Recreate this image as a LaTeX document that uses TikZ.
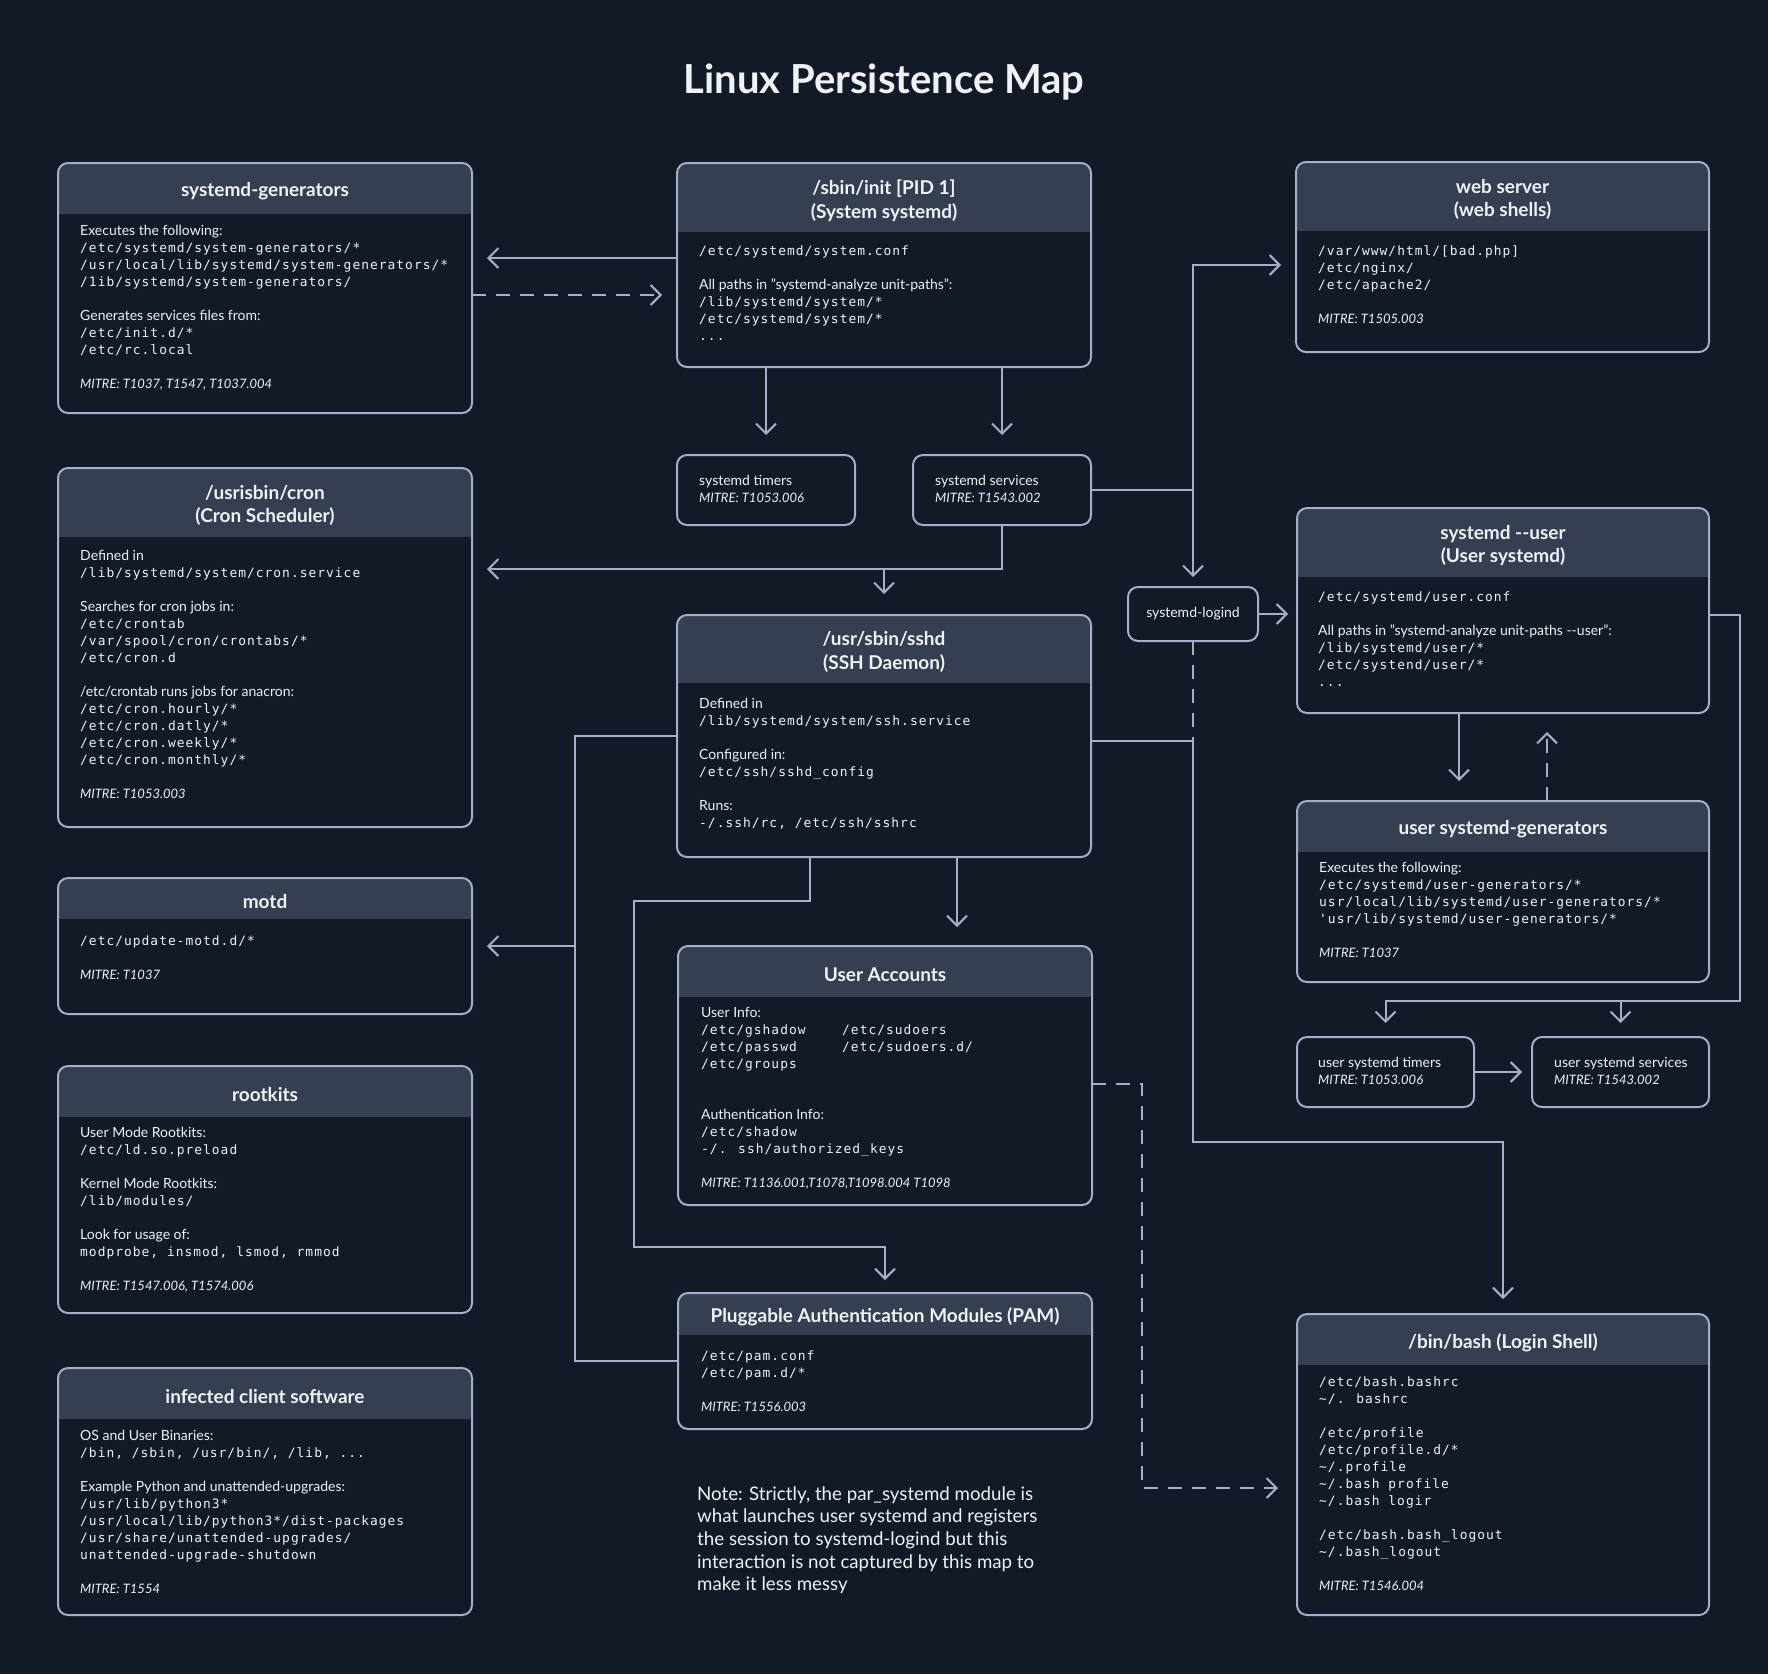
\documentclass[tikz,border=0pt]{standalone}
\usepackage{fontspec}
\setmainfont{Lato}
\newfontfamily\monof{DejaVu Sans Mono}[Scale=0.92,LetterSpace=8]
\usetikzlibrary{arrows.meta}
\definecolor{bgc}{HTML}{121A27}
\definecolor{headc}{HTML}{363F51}
\definecolor{edgec}{HTML}{A5AFC9}
\definecolor{txtc}{HTML}{F0F2F6}
\newcommand\mm[1]{{\monof #1}}
\newcommand\mi[1]{{\fontsize{13}{17}\selectfont\itshape #1}}
\newcommand\mapbox[6]{%
  \fill[bgc,rounded corners=10pt] (#2,#3) rectangle (#4,#5);
  \begin{scope}
    \clip[rounded corners=10pt] (#2,#3) rectangle (#4,#5);
    \fill[headc] (#2,#3) rectangle (#4,#6);
  \end{scope}
  \node[boxframe, minimum width={(#4-#2)*1pt}, minimum height={(#5-#3)*1pt}] (#1) at ({(#2+#4)/2},{(#3+#5)/2}) {};
  \node[htitle] (#1-t) at ({(#2+#4)/2},{(#3+#6)/2+3})}
\newcommand\smallbox[5]{%
  \fill[bgc,rounded corners=10pt] (#2,#3) rectangle (#4,#5);
  \node[boxframe, minimum width={(#4-#2)*1pt}, minimum height={(#5-#3)*1pt}] (#1) at ({(#2+#4)/2},{(#3+#5)/2}) {};}
\tikzset{
  boxframe/.style={draw=edgec, line width=2pt, rounded corners=10pt, inner sep=0pt, outer sep=0pt},
  htitle/.style={text=txtc, font=\bfseries\fontsize{19}{23.5}\selectfont, align=center, inner sep=0pt},
  btext/.style={text=txtc, anchor=north west, inner sep=0pt, align=left, font=\fontsize{14}{17}\selectfont},
  conn/.style={draw=edgec, line width=2pt},
  arr/.style={conn, -{Straight Barb[length=10pt,width=20pt]}, shorten >=15pt},
  dsh/.style={dash pattern=on 14pt off 10pt},
}
\begin{document}
\begin{tikzpicture}[x=1pt,y=-1pt]
\fill[bgc] (0,0) rectangle (1768,1674);
\useasboundingbox (0,0) rectangle (1768,1674);

\node[text=txtc, font=\bfseries\fontsize{40}{46}\selectfont] (title) at (884,82) {Linux Persistence Map};

% ---------- left column
\mapbox{gens}{58}{163}{472}{413}{214} {systemd-generators};
\node[btext] (gens-b) at (80,223) {\strut Executes the following:\\
\mm{/etc/systemd/system-generators/*}\\
\mm{/usr/local/lib/systemd/system-generators/*}\\
\mm{/1ib/systemd/system-generators/}\\[17pt]
Generates services files from:\\
\mm{/etc/init.d/*}\\
\mm{/etc/rc.local}\\[17pt]
\mi{MITRE: T1037, T1547, T1037.004}};

\mapbox{cron}{58}{468}{472}{827}{537} {/usrisbin/cron\\(Cron Scheduler)};
\node[btext] (cron-b) at (80,548) {\strut Defined in\\
\mm{/lib/systemd/system/cron.service}\\[17pt]
Searches for cron jobs in:\\
\mm{/etc/crontab}\\
\mm{/var/spool/cron/crontabs/*}\\
\mm{/etc/cron.d}\\[17pt]
/etc/crontab runs jobs for anacron:\\
\mm{/etc/cron.hourly/*}\\
\mm{/etc/cron.datly/*}\\
\mm{/etc/cron.weekly/*}\\
\mm{/etc/cron.monthly/*}\\[17pt]
\mi{MITRE: T1053.003}};

\mapbox{motd}{58}{878}{472}{1014}{919} {motd};
\node[btext] (motd-b) at (80,933) {\strut\mm{/etc/update-motd.d/*}\\[17pt]
\mi{MITRE: T1037}};

\mapbox{rootkits}{58}{1066}{472}{1313}{1117} {rootkits};
\node[btext] (rootkits-b) at (80,1125) {\strut User Mode Rootkits:\\
\mm{/etc/ld.so.preload}\\[17pt]
Kernel Mode Rootkits:\\
\mm{/lib/modules/}\\[17pt]
Look for usage of:\\
\mm{modprobe, insmod, lsmod, rmmod}\\[17pt]
\mi{MITRE: T1547.006, T1574.006}};

\mapbox{infected}{58}{1368}{472}{1615}{1419} {infected client software};
\node[btext] (infected-b) at (80,1428) {\strut OS and User Binaries:\\
\mm{/bin, /sbin, /usr/bin/, /lib, ...}\\[17pt]
Example Python and unattended-upgrades:\\
\mm{/usr/lib/python3*}\\
\mm{/usr/local/lib/python3*/dist-packages}\\
\mm{/usr/share/unattended-upgrades/}\\
\mm{unattended-upgrade-shutdown}\\[17pt]
\mi{MITRE: T1554}};

% ---------- centre column
\mapbox{init}{677}{163}{1091}{367}{232} {/sbin/init [PID 1]\\(System systemd)};
\node[btext] (init-b) at (699,243) {\strut\mm{/etc/systemd/system.conf}\\[17pt]
All paths in "systemd-analyze unit-paths":\\
\mm{/lib/systemd/system/*}\\
\mm{/etc/systemd/system/*}\\
\mm{...}};

\smallbox{timers}{677}{455}{855}{525}
\node[btext] (timers-b) at (699,473) {\strut systemd timers\\ \mi{MITRE: T1053.006}};
\smallbox{services}{913}{455}{1091}{525}
\node[btext] (services-b) at (935,473) {\strut systemd services\\ \mi{MITRE: T1543.002}};

\mapbox{sshd}{677}{615}{1091}{857}{683} {/usr/sbin/sshd\\(SSH Daemon)};
\node[btext] (sshd-b) at (699,696) {\strut Defined in\\
\mm{/lib/systemd/system/ssh.service}\\[17pt]
Configured in:\\
\mm{/etc/ssh/sshd\_config}\\[17pt]
Runs:\\
\mm{-/.ssh/rc, /etc/ssh/sshrc}};

\mapbox{accounts}{678}{946}{1092}{1205}{997} {User Accounts};
\node[btext] (accounts-b) at (701,1005) {\strut User Info:\\
\mm{\makebox[141pt][l]{/etc/gshadow}/etc/sudoers}\\
\mm{\makebox[141pt][l]{/etc/passwd}/etc/sudoers.d/}\\
\mm{/etc/groups}\\[34pt]
Authentication Info:\\
\mm{/etc/shadow}\\
\mm{-/. ssh/authorized\_keys}\\[17pt]
\mi{MITRE: T1136.001,T1078,T1098.004 T1098}};

\mapbox{pam}{678}{1293}{1092}{1429}{1335} {Pluggable Authentication Modules (PAM)};
\node[btext] (pam-b) at (701,1348) {\strut\mm{/etc/pam.conf}\\
\mm{/etc/pam.d/*}\\[17pt]
\mi{MITRE: T1556.003}};

\node[text=txtc, anchor=north west, inner sep=0pt, align=left, font=\fontsize{18.7}{22.7}\selectfont] (note) at (697,1484) {\strut Note: Strictly, the par\_systemd module is\\
what launches user systemd and registers\\
the session to systemd-logind but this\\
interaction is not captured by this map to\\
make it less messy};

% ---------- right column
\mapbox{web}{1296}{162}{1709}{352}{231} {web server\\(web shells)};
\node[btext] (web-b) at (1318,243) {\strut\mm{/var/www/html/[bad.php]}\\
\mm{/etc/nginx/}\\
\mm{/etc/apache2/}\\[17pt]
\mi{MITRE: T1505.003}};

\smallbox{logind}{1128}{587}{1258}{641}
\node[text=txtc, inner sep=0pt, font=\fontsize{14}{17}\selectfont] (logind-t) at (1193,614) {systemd-logind};

\mapbox{user}{1297}{508}{1709}{713}{577} {systemd -{}-user\\(User systemd)};
\node[btext] (user-b) at (1318,589) {\strut\mm{/etc/systemd/user.conf}\\[17pt]
All paths in "systemd-analyze unit-paths -{}-user":\\
\mm{/lib/systemd/user/*}\\
\mm{/etc/systend/user/*}\\
\mm{...}};

\mapbox{ugen}{1297}{801}{1709}{982}{852} {user systemd-generators};
\node[btext] (ugen-b) at (1319,860) {\strut Executes the following:\\
\mm{/etc/systemd/user-generators/*}\\
\mm{usr/local/lib/systemd/user-generators/*}\\
\mm{'usr/lib/systemd/user-generators/*}\\[17pt]
\mi{MITRE: T1037}};

\smallbox{utimers}{1297}{1037}{1474}{1107}
\node[btext] (utimers-b) at (1318,1055) {\strut user systemd timers\\ \mi{MITRE: T1053.006}};
\smallbox{userv}{1532}{1037}{1709}{1107}
\node[btext] (userv-b) at (1554,1055) {\strut user systemd services\\ \mi{MITRE: T1543.002}};

\mapbox{bash}{1297}{1314}{1709}{1615}{1365} {/bin/bash (Login Shell)};
\node[btext] (bash-b) at (1319,1374) {\strut\mm{/etc/bash.bashrc}\\
\mm{\textasciitilde/. bashrc}\\[17pt]
\mm{/etc/profile}\\
\mm{/etc/profile.d/*}\\
\mm{\textasciitilde/.profile}\\
\mm{\textasciitilde/.bash profile}\\
\mm{\textasciitilde/.bash logir}\\[17pt]
\mm{/etc/bash.bash\_logout}\\
\mm{\textasciitilde/.bash\_logout}\\[17pt]
\mi{MITRE: T1546.004}};

% ---------- connectors
\coordinate (c1) at ([yshift=7pt]init.west);
\draw[arr] (c1) -- (c1 -| gens.east);
\coordinate (c2) at ([yshift=-7pt]gens.east);
\draw[arr,dsh] (c2) -- (c2 -| init.west);

\draw[arr, shorten >=20pt] (init.south -| timers.north) -- (timers.north);
\draw[arr, shorten >=20pt] (init.south -| services.north) -- (services.north);

\draw[arr, shorten >=10pt] (services.east) -| (logind.north);
\coordinate (c5) at ([yshift=-8pt]web.west);
\draw[arr] (services.east -| logind.north) |- (c5);

\coordinate (j2) at (1002,569);
\draw[arr] (services.south) |- (j2 -| cron.east);
\draw[arr, shorten >=21pt] (j2 -| sshd.north) -- (sshd.north);

\coordinate (lx) at (575,946);
\draw[conn] (sshd.west) -| (lx) |- (pam.west);
\draw[arr] (lx) -- (lx -| motd.east);

\coordinate (k1) at (810,901);
\coordinate (k2) at (634,1247);
\draw[arr, shorten >=13pt] (k1 |- sshd.south) -- (k1) -| (k2) -| (pam.north);

\coordinate (k3) at (957,0);
\draw[arr, shorten >=19pt] (k3 |- sshd.south) -- (k3 |- accounts.north);

\coordinate (se) at ([yshift=-5pt]sshd.east);
\coordinate (k4) at (1193,1142);
\draw[arr] (se) -| (k4) -| (bash.north);

\draw[conn,dsh] (logind.south) -- (logind.south |- se);

\draw[arr, shorten >=9pt] (logind.east) -- (logind.east -| user.west);

\coordinate (k6) at (1459,0);
\draw[arr, shorten >=20pt] (k6 |- user.south) -- (k6 |- ugen.north);
\coordinate (k7) at (1547,0);
\draw[arr, dsh, shorten >=19pt] (k7 |- ugen.north) -- (k7 |- user.south);

\coordinate (k8) at (1740,1001);
\draw[arr, shorten >=14pt] ([yshift=-4pt]user.east) -| (k8) -| (utimers.north);
\draw[arr, shorten >=14pt] (k8 -| userv.north) -- (userv.north);

\draw[arr, shorten >=10pt] (utimers.east) -- (userv.west);

\coordinate (k9) at (1142,1084);
\coordinate (k10) at (1142,1488);
\draw[arr, dsh, shorten >=19pt] (k9 -| accounts.east) -- (k9) -- (k10) -- (k10 -| bash.west);
\end{tikzpicture}
\end{document}
